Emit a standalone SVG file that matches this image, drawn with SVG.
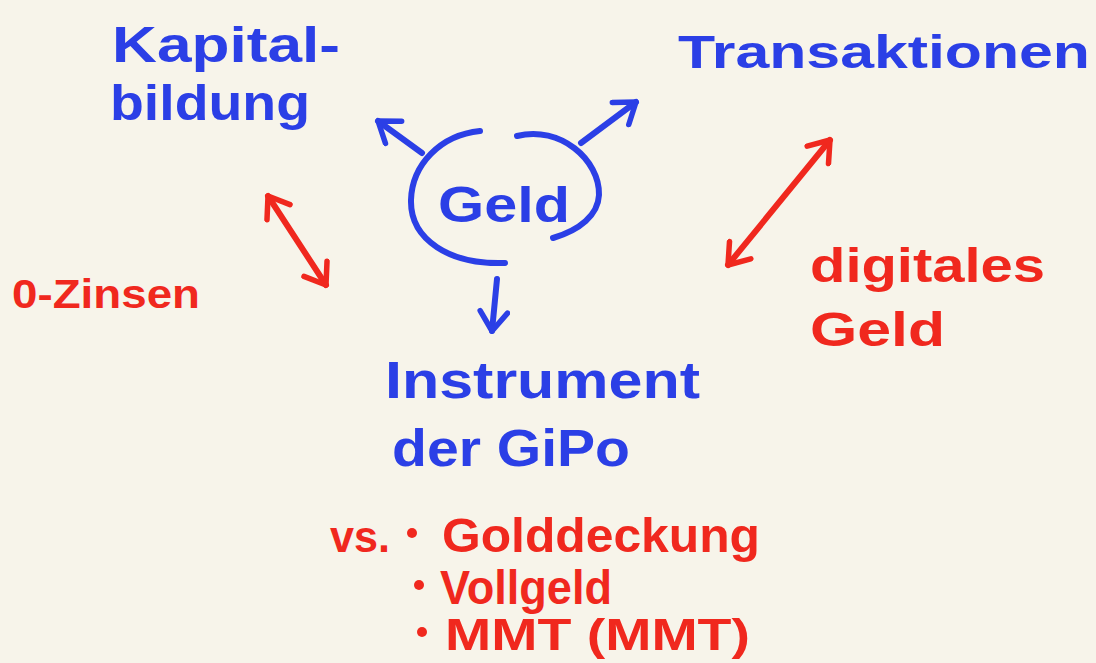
<svg xmlns="http://www.w3.org/2000/svg" width="1096" height="663" viewBox="0 0 1096 663">
  <style>
    .blue { fill: #2B3FE6; }
    .red { fill: #F0281E; }
    text { font-family: "Liberation Sans", "DejaVu Sans", sans-serif; font-weight: bold; }
    .lb { stroke: #2B3FE6; stroke-width: 6; fill: none; stroke-linecap: round; stroke-linejoin: round; }
    .lr { stroke: #F0281E; stroke-width: 6; fill: none; stroke-linecap: round; stroke-linejoin: round; }
  </style>
  <defs>
    <marker id="hb" viewBox="0 0 12 12" refX="9" refY="6" markerWidth="5.5" markerHeight="5.5" orient="auto-start-reverse" markerUnits="strokeWidth">
      <path d="M2,1 L9,6 L2,11" fill="none" stroke="#2B3FE6" stroke-width="2" stroke-linecap="round" stroke-linejoin="round"/>
    </marker>
    <marker id="hr" viewBox="0 0 12 12" refX="9" refY="6" markerWidth="5.5" markerHeight="5.5" orient="auto-start-reverse" markerUnits="strokeWidth">
      <path d="M2,1 L9,6 L2,11" fill="none" stroke="#F0281E" stroke-width="2" stroke-linecap="round" stroke-linejoin="round"/>
    </marker>
  </defs>
  <rect width="1096" height="663" fill="#F7F4EA"/>

  <g id="geld">
    <path class="lb" d="M480,131 C440,135 412,165 411,200 C410,240 450,265 505,263"/>
    <path class="lb" d="M517,136 C560,125 600,160 599,195 C598,215 580,230 553,238"/>
    <text class="blue" x="438" y="222" font-size="50" textLength="132" lengthAdjust="spacingAndGlyphs">Geld</text>
  </g>

  <g id="kapitalbildung">
    <text class="blue" x="112" y="62" font-size="50" textLength="228" lengthAdjust="spacingAndGlyphs">Kapital-</text>
    <text class="blue" x="110" y="120" font-size="50" textLength="200" lengthAdjust="spacingAndGlyphs">bildung</text>
  </g>

  <g id="transaktionen">
    <text class="blue" x="678" y="68" font-size="46" textLength="412" lengthAdjust="spacingAndGlyphs">Transaktionen</text>
  </g>

  <g id="instrument">
    <text class="blue" x="385" y="398" font-size="52" textLength="315" lengthAdjust="spacingAndGlyphs">Instrument</text>
    <text class="blue" x="392" y="466" font-size="52" textLength="238" lengthAdjust="spacingAndGlyphs">der GiPo</text>
  </g>

  <g id="nullzinsen">
    <text class="red" x="12" y="308" font-size="40" textLength="188" lengthAdjust="spacingAndGlyphs">0-Zinsen</text>
  </g>

  <g id="digitalesgeld">
    <text class="red" x="810" y="282" font-size="48" textLength="235" lengthAdjust="spacingAndGlyphs">digitales</text>
    <text class="red" x="810" y="346" font-size="48" textLength="135" lengthAdjust="spacingAndGlyphs">Geld</text>
  </g>

  <g id="alternativen">
    <text class="red" x="330" y="552" font-size="44" textLength="60" lengthAdjust="spacingAndGlyphs">vs.</text>
    <circle class="red" cx="412" cy="533" r="5"/>
    <text class="red" x="442" y="552" font-size="48" textLength="318" lengthAdjust="spacingAndGlyphs">Golddeckung</text>
    <circle class="red" cx="419" cy="585" r="5"/>
    <text class="red" x="440" y="604" font-size="48" textLength="172" lengthAdjust="spacingAndGlyphs">Vollgeld</text>
    <circle class="red" cx="422" cy="632" r="5"/>
    <text class="red" x="445" y="650" font-size="44" textLength="305" lengthAdjust="spacingAndGlyphs">MMT (MMT)</text>
  </g>

  <g id="connectors">
    <line class="lb" x1="422" y1="153" x2="378" y2="121" marker-end="url(#hb)"/>
    <line class="lb" x1="581" y1="143" x2="636" y2="102" marker-end="url(#hb)"/>
    <line class="lb" x1="497" y1="279" x2="492" y2="331" marker-end="url(#hb)"/>
    <line class="lr" x1="268" y1="196" x2="326" y2="285" marker-start="url(#hr)" marker-end="url(#hr)"/>
    <line class="lr" x1="830" y1="140" x2="728" y2="265" marker-start="url(#hr)" marker-end="url(#hr)"/>
  </g>
</svg>
